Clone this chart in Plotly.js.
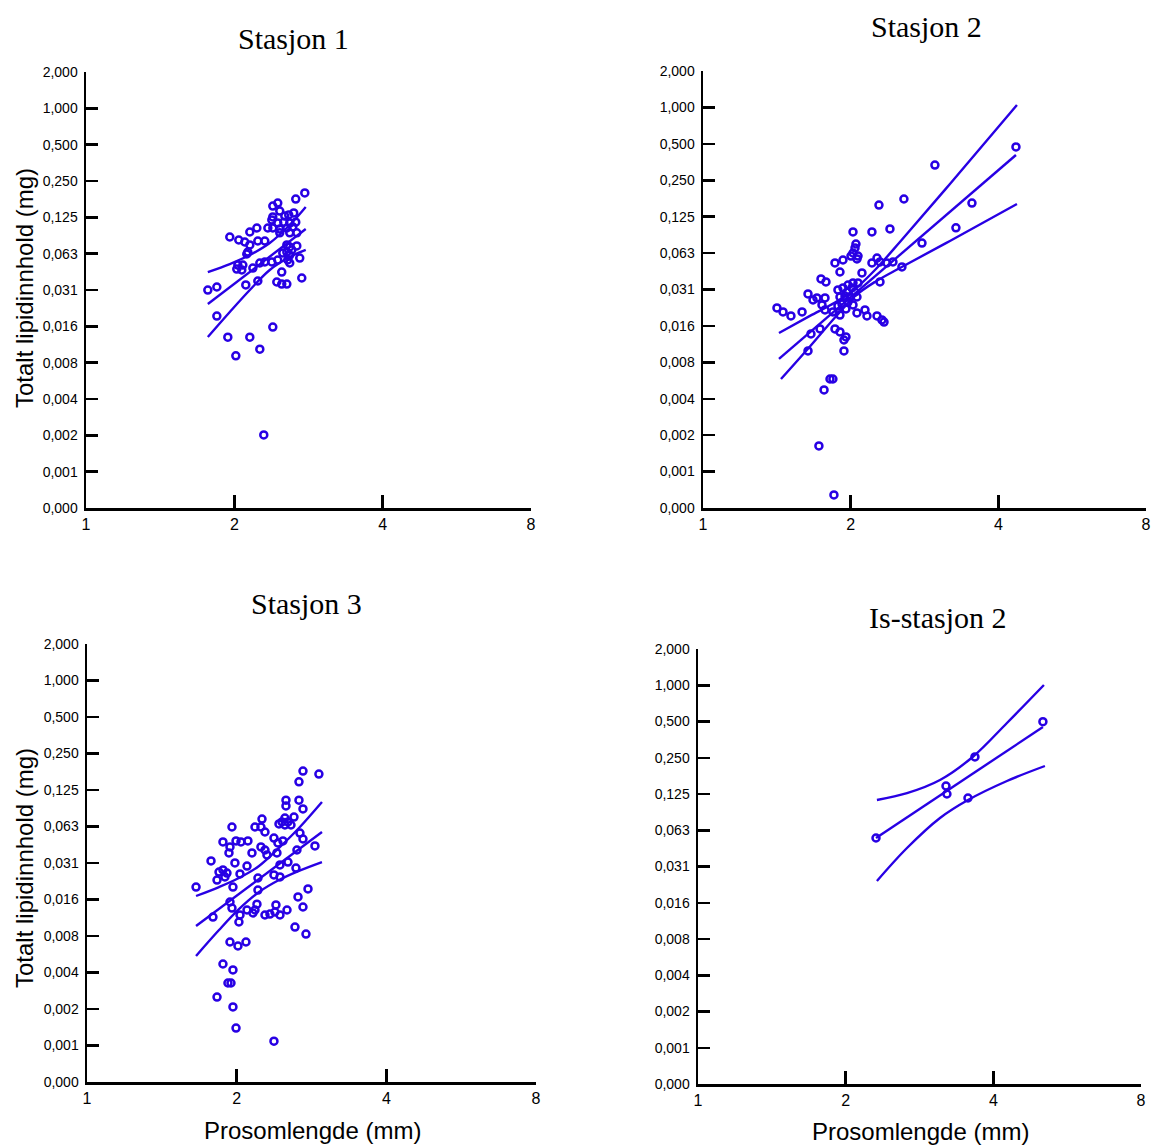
<!DOCTYPE html>
<html>
<head>
<meta charset="utf-8">
<script src="https://cdn.plot.ly/plotly-3.0.1.min.js"></script>
<style>
  html, body { margin: 0; padding: 0; background: #ffffff; }
  #chart { width: 1152px; height: 1146px; }
</style>
</head>
<body>
<div id="chart"></div>
<script>
// ---- Axis ticks (log2-spaced lipid axis, log2-spaced length axis) ----
const yTickVals = [2, 1, 0.5, 0.25, 0.125, 0.0625, 0.03125, 0.015625, 0.0078125,
                   0.00390625, 0.001953125, 0.0009765625, 0.00048828125];
const yTickText = ['2,000', '1,000', '0,500', '0,250', '0,125', '0,063', '0,031',
                   '0,016', '0,008', '0,004', '0,002', '0,001', '0,000'];
const xTickVals = [1, 2, 4, 8];
const xTickText = ['1', '2', '4', '8'];

const panelTitles = ['Stasjon 1', 'Stasjon 2', 'Stasjon 3', 'Is-stasjon 2'];
const yTitle = 'Totalt lipidinnhold (mg)';
const xTitle = 'Prosomlengde (mm)';

// ---- Stasjon 1 ----
const s1Length = [2.780, 2.665, 2.450, 2.394, 2.473, 2.640, 2.579, 2.532, 2.394, 2.383,
                  2.520, 2.450, 2.591, 2.665, 2.339, 2.394, 2.473, 2.556, 2.628, 2.473,
                  2.591, 2.678, 2.222, 2.150, 1.958, 2.042, 2.100, 2.232, 2.306, 2.150,
                  2.130, 2.120, 2.556, 2.591, 2.556, 2.616, 2.678, 2.508, 2.591, 2.715,
                  2.591, 2.567, 2.033, 2.081, 2.071, 2.023, 2.181, 2.253, 2.306, 2.383,
                  2.450, 2.496, 2.741, 2.232, 2.439, 2.496, 2.556, 1.767, 1.843, 2.110,
                  1.843, 2.394, 1.940, 2.150, 2.253, 2.014, 2.295];
const s1Lipid = [0.199, 0.177, 0.164, 0.155, 0.141, 0.136, 0.131, 0.128, 0.126, 0.119,
                 0.114, 0.112, 0.112, 0.114, 0.102, 0.102, 0.100, 0.102, 0.104, 0.093,
                 0.093, 0.093, 0.102, 0.0945, 0.0859, 0.0811, 0.0781, 0.0796, 0.0796, 0.0738,
                 0.0645, 0.0621, 0.0738, 0.0710, 0.0645, 0.0671, 0.0724, 0.0633, 0.0609, 0.0575,
                 0.0523, 0.0554, 0.0503, 0.0503, 0.0458, 0.0466, 0.0475, 0.0523, 0.0533, 0.0533,
                 0.0554, 0.0440, 0.0393, 0.0371, 0.0364, 0.0350, 0.0350, 0.0312, 0.0331, 0.0344,
                 0.0190, 0.0154, 0.0127, 0.0127, 0.0101, 0.0089, 0.00197];
const s1FitLength = [1.767, 2.792];
const s1Fit = [0.0239, 0.1000];
const s1BandLength = [1.767, 1.958, 2.150, 2.360, 2.591, 2.792];
const s1Upper = [0.0440, 0.0513, 0.0609, 0.0766, 0.1080, 0.1522];
const s1Lower = [0.01274, 0.02053, 0.03124, 0.0458, 0.0586, 0.0671];

// ---- Stasjon 2 ----
const s2Length = [4.345, 2.970, 2.568, 2.284, 3.534, 3.278, 2.405, 2.210, 2.022, 2.050,
                  2.041, 2.022, 2.070, 2.003, 2.060, 2.795, 1.929, 1.858, 1.902, 2.210,
                  2.263, 2.295, 2.371, 2.439, 2.544, 2.109, 1.740, 1.781, 2.295, 2.022,
                  2.070, 1.975, 1.929, 2.012, 1.966, 1.884, 2.041, 1.947, 1.993, 1.902,
                  2.060, 1.975, 1.920, 2.022, 1.884, 1.956, 1.637, 1.707, 1.773, 1.748,
                  1.415, 1.456, 1.511, 1.592, 1.676, 1.773, 1.840, 1.902, 2.060, 2.139,
                  2.159, 2.263, 2.316, 2.339, 1.660, 1.732, 1.858, 1.902, 1.956, 1.938,
                  1.637, 1.938, 1.815, 1.840, 1.765, 1.723, 1.849];
const s2Lipid = [0.471, 0.334, 0.175, 0.156, 0.162, 0.101, 0.0989, 0.0934, 0.0934, 0.0743,
                 0.0689, 0.0626, 0.0591, 0.0591, 0.0559, 0.0757, 0.0548, 0.0518, 0.0436, 0.0518,
                 0.0569, 0.0528, 0.0518, 0.0528, 0.0480, 0.0428, 0.0382, 0.0361, 0.0361, 0.0354,
                 0.0354, 0.0340, 0.0322, 0.0322, 0.0298, 0.0310, 0.0298, 0.0276, 0.0266, 0.0271,
                 0.0271, 0.0246, 0.0237, 0.0233, 0.0228, 0.0216, 0.0287, 0.0266, 0.0266, 0.0233,
                 0.0220, 0.0204, 0.0189, 0.0204, 0.0256, 0.0212, 0.0204, 0.0192, 0.0200, 0.0212,
                 0.0189, 0.0189, 0.0175, 0.0168, 0.01342, 0.01474, 0.01474, 0.01394, 0.01266, 0.01195,
                 0.00970, 0.00970, 0.00569, 0.00569, 0.00462, 0.00159, 0.000626];
const s2FitLength = [1.4285, 4.345];
const s2Fit = [0.00833, 0.4043];
const s2UpperLength = [1.4285, 1.652, 1.858, 2.041, 2.2415, 2.520, 3.187, 4.365];
const s2Upper = [0.01366, 0.0189, 0.02441, 0.03156, 0.04532, 0.07717, 0.2328, 1.047];
const s2LowerLength = [1.442, 1.652, 1.858, 2.041, 2.2415, 2.520, 3.187, 4.365];
const s2Lower = [0.00569, 0.01057, 0.01835, 0.0276, 0.0361, 0.0471, 0.0787, 0.1591];

// ---- Stasjon 3 ----
const s3Length = [2.719, 2.927, 2.669, 2.513, 2.513, 2.669, 2.719, 2.249, 2.608, 2.501,
                  2.467, 2.536, 2.501, 2.433, 2.572, 1.957, 2.177, 2.238, 2.280, 2.377,
                  2.478, 2.421, 2.681, 2.719, 1.877, 1.994, 2.040, 2.107, 1.939, 1.930,
                  2.238, 2.280, 2.301, 2.147, 2.410, 2.874, 1.776, 1.984, 2.098, 2.644,
                  2.632, 2.536, 2.444, 1.877, 1.912, 1.843, 1.894, 1.826, 2.031, 1.657,
                  1.966, 2.207, 2.783, 2.657, 2.719, 1.792, 1.939, 1.957, 2.197, 2.177,
                  2.280, 2.333, 2.388, 2.444, 2.525, 2.399, 2.031, 2.021, 2.620, 2.757,
                  1.939, 2.012, 2.088, 1.877, 1.966, 1.921, 1.948, 1.826, 1.966, 1.994,
                  2.377, 2.207, 2.377, 2.444, 2.098, 2.157];
const s3Lipid = [0.179, 0.169, 0.146, 0.103, 0.0923, 0.103, 0.0872, 0.0720, 0.0748, 0.0734,
                 0.0681, 0.0681, 0.0643, 0.0656, 0.0643, 0.0619, 0.0619, 0.0619, 0.0563, 0.0502,
                 0.0475, 0.0457, 0.0552, 0.0493, 0.0466, 0.0475, 0.0466, 0.0475, 0.0424, 0.0378,
                 0.0424, 0.0400, 0.0364, 0.0378, 0.0378, 0.0432, 0.0325, 0.0313, 0.0295, 0.0400,
                 0.0284, 0.0318, 0.0301, 0.0274, 0.0258, 0.0263, 0.0240, 0.0226, 0.0254, 0.0198,
                 0.0198, 0.0187, 0.0191, 0.0164, 0.01355, 0.01120, 0.0149, 0.01329, 0.0143, 0.0128,
                 0.01164, 0.01186, 0.01232, 0.01164, 0.0128, 0.0141, 0.01164, 0.01019, 0.00926, 0.00811,
                 0.00697, 0.00646, 0.00697, 0.00459, 0.00410, 0.00320, 0.00320, 0.00245, 0.00203, 0.00136,
                 0.00106, 0.0235, 0.0249, 0.0240, 0.0128, 0.01209];
const s3FitLength = [1.657, 2.969];
const s3Fit = [0.00944, 0.0563];
const s3BandLength = [1.657, 1.843, 2.021, 2.218, 2.433, 2.669, 2.969];
const s3Upper = [0.0167, 0.0198, 0.0235, 0.0295, 0.0416, 0.0607, 0.0995];
const s3Lower = [0.00535, 0.00875, 0.0130, 0.0180, 0.0226, 0.0269, 0.0318];

// ---- Is-stasjon 2 ----
const is2Length = [2.306, 3.203, 3.217, 3.669, 3.551, 5.048];
const is2Lipid = [0.0539, 0.1457, 0.125, 0.254, 0.1158, 0.498];
const is2FitLength = [2.306, 5.048];
const is2Fit = [0.0539, 0.450];
const is2UpperLength = [2.316, 2.667, 3.114, 3.635, 4.264, 5.072];
const is2Upper = [0.1114, 0.127, 0.1633, 0.255, 0.486, 1.005];
const is2LowerLength = [2.316, 2.667, 3.114, 3.551, 4.264, 5.096];
const is2Lower = [0.0237, 0.0445, 0.0790, 0.1114, 0.1603, 0.2135];

// ---- Styling ----
const ink = '#2800e4';
const W = 1152, H = 1146;

function points(x, y, n) {
  return {
    type: 'scatter', mode: 'markers', x: x, y: y,
    xaxis: 'x' + (n === 1 ? '' : n), yaxis: 'y' + (n === 1 ? '' : n),
    marker: { symbol: 'circle-open', size: 7, color: ink, line: { width: 2.5, color: ink } },
    hoverinfo: 'x+y', showlegend: false
  };
}
function curve(x, y, n, smooth) {
  return {
    type: 'scatter', mode: 'lines', x: x, y: y,
    xaxis: 'x' + (n === 1 ? '' : n), yaxis: 'y' + (n === 1 ? '' : n),
    line: { color: ink, width: 2.4, shape: smooth ? 'spline' : 'linear', smoothing: 1 },
    hoverinfo: 'skip', showlegend: false
  };
}

const data = [
  points(s1Length, s1Lipid, 1),
  curve(s1FitLength, s1Fit, 1, false),
  curve(s1BandLength, s1Upper, 1, true),
  curve(s1BandLength, s1Lower, 1, true),

  points(s2Length, s2Lipid, 2),
  curve(s2FitLength, s2Fit, 2, false),
  curve(s2UpperLength, s2Upper, 2, true),
  curve(s2LowerLength, s2Lower, 2, true),

  points(s3Length, s3Lipid, 3),
  curve(s3FitLength, s3Fit, 3, false),
  curve(s3BandLength, s3Upper, 3, true),
  curve(s3BandLength, s3Lower, 3, true),

  points(is2Length, is2Lipid, 4),
  curve(is2FitLength, is2Fit, 4, false),
  curve(is2UpperLength, is2Upper, 4, true),
  curve(is2LowerLength, is2Lower, 4, true)
];

// pixel frames of the four plot areas: [left, right, top, bottom]
const frames = [
  [86, 531, 72, 508],
  [703, 1146, 71, 508],
  [87, 536, 644, 1082],
  [698, 1141, 649, 1084]
];

const layout = {
  width: W, height: H,
  margin: { l: 0, r: 0, t: 0, b: 0 },
  paper_bgcolor: '#ffffff', plot_bgcolor: '#ffffff',
  showlegend: false,
  annotations: []
};

const tickFont = { family: 'Liberation Sans, Arial, sans-serif', size: 14, color: '#000000' };
const xTickFont = { family: 'Liberation Sans, Arial, sans-serif', size: 16, color: '#000000' };

frames.forEach((f, i) => {
  const n = i + 1;
  const sx = n === 1 ? '' : n;
  layout['xaxis' + sx] = {
    domain: [f[0] / W, f[1] / W],
    anchor: 'y' + sx,
    type: 'log',
    range: [0, Math.log10(8)],
    tickmode: 'array', tickvals: xTickVals, ticktext: xTickText,
    ticks: 'inside', ticklen: 13, tickwidth: 2.5, tickcolor: '#000000',
    showline: true, linecolor: '#000000', linewidth: 2.5,
    showgrid: false, zeroline: false,
    tickfont: xTickFont
  };
  layout['yaxis' + sx] = {
    domain: [1 - f[3] / H, 1 - f[2] / H],
    anchor: 'x' + sx,
    type: 'log',
    range: [Math.log10(0.00048828125), Math.log10(2)],
    tickmode: 'array', tickvals: yTickVals, ticktext: yTickText,
    ticks: 'inside', ticklen: 12, tickwidth: 2.5, tickcolor: '#000000',
    ticklabelstandoff: 3,
    showline: true, linecolor: '#000000', linewidth: 2.5,
    showgrid: false, zeroline: false,
    tickfont: tickFont
  };
});

// panel headings
const headingPos = [[293, 38], [926, 26], [306, 603], [938, 617]];
panelTitles.forEach((t, i) => {
  layout.annotations.push({
    text: t, xref: 'paper', yref: 'paper',
    x: headingPos[i][0] / W, y: 1 - headingPos[i][1] / H,
    xanchor: 'center', yanchor: 'middle', showarrow: false,
    font: { family: 'Liberation Serif, Times New Roman, serif', size: 30, color: '#000000' }
  });
});

// axis titles
const axisTitleFont = { family: 'Liberation Sans, Arial, sans-serif', size: 24, color: '#000000' };
[[24, 288], [24, 868]].forEach(p => {
  layout.annotations.push({
    text: yTitle, xref: 'paper', yref: 'paper',
    x: p[0] / W, y: 1 - p[1] / H, xanchor: 'center', yanchor: 'middle',
    textangle: -90, showarrow: false, font: axisTitleFont
  });
});
[[312, 1130], [920, 1131]].forEach(p => {
  layout.annotations.push({
    text: xTitle, xref: 'paper', yref: 'paper',
    x: p[0] / W, y: 1 - p[1] / H, xanchor: 'center', yanchor: 'middle',
    showarrow: false, font: axisTitleFont
  });
});

Plotly.newPlot('chart', data, layout, { displayModeBar: false, staticPlot: true });
</script>
</body>
</html>
